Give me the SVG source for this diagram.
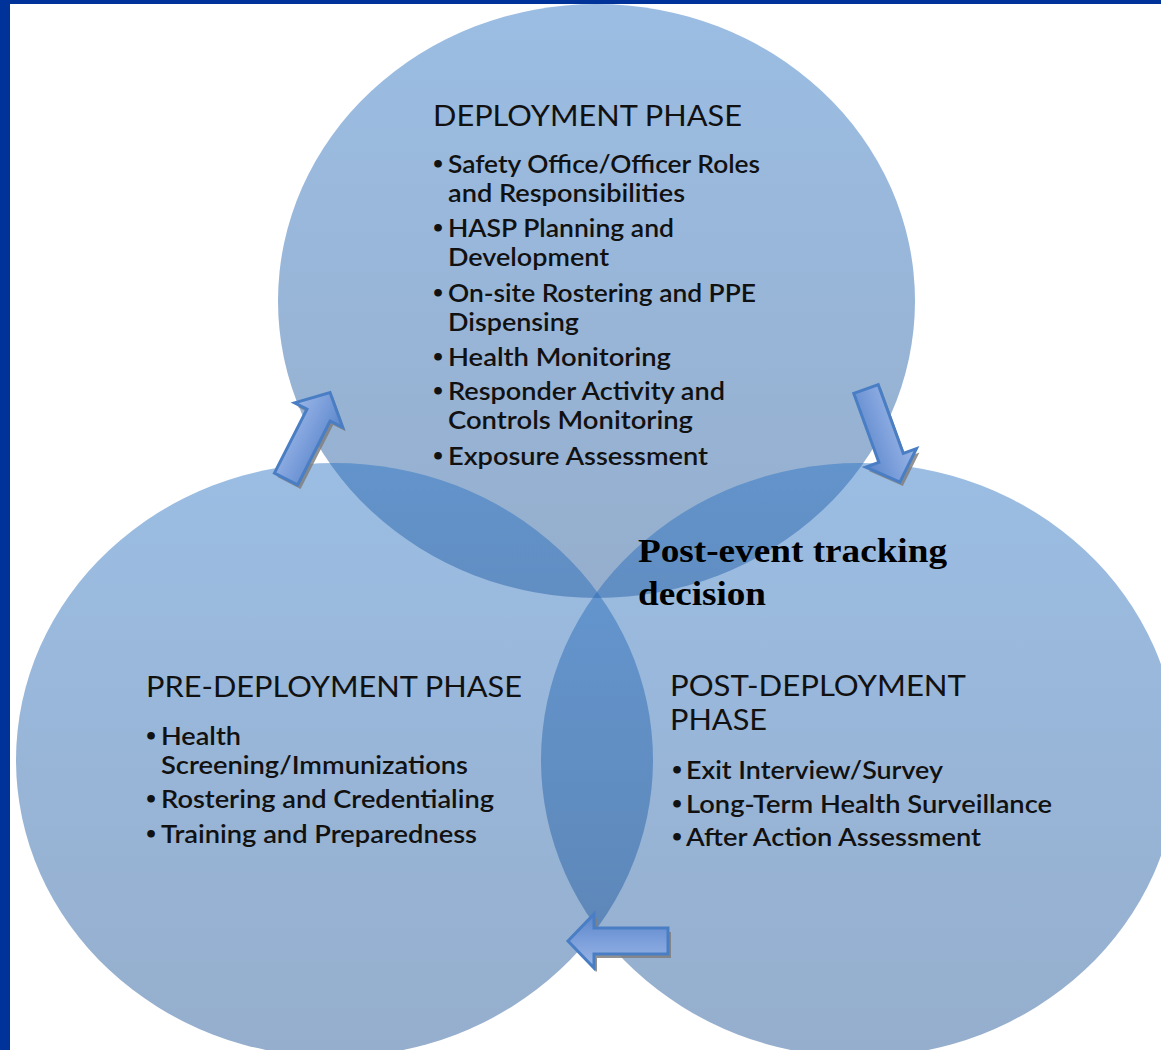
<svg xmlns="http://www.w3.org/2000/svg" xmlns:xlink="http://www.w3.org/1999/xlink" width="1161" height="1050" viewBox="0 0 1161 1050">
<style>
.head{font-family:Lato,"Open Sans","Liberation Sans",sans-serif;font-size:28px;fill:#111;}
.item{font-family:Lato,"Open Sans","Liberation Sans",sans-serif;font-size:24px;font-weight:600;fill:#111;}
.bul{font-family:"DejaVu Sans",sans-serif;font-size:22px;font-weight:bold;fill:#111;}
.note{font-family:"Liberation Serif","Times New Roman",serif;font-size:34px;font-weight:bold;fill:#000;}
.circ{fill:url(#cg);opacity:0.46;}
.arrow{fill:url(#ag);stroke:#4a7ec4;stroke-width:3;stroke-linejoin:miter;}
.shadow{fill:#7f7f7f;opacity:0.85;}
</style>
<defs>
<linearGradient id="cg" x1="0" y1="0" x2="0" y2="1">
<stop offset="0" stop-color="rgb(38,112,194)"/>
<stop offset="1" stop-color="rgb(25,79,146)"/>
</linearGradient>
<linearGradient id="ag" gradientUnits="userSpaceOnUse" x1="0" y1="-27" x2="0" y2="27">
<stop offset="0" stop-color="#9bb6e6"/>
<stop offset="0.5" stop-color="#7c9fdb"/>
<stop offset="1" stop-color="#5a85c9"/>
</linearGradient>
<path id="arr" d="M0,-13 H74 V-27 L100,0 L74,27 V13 H0 Z"/>
</defs>
<rect width="1161" height="1050" fill="#fff"/>

<g id="node-deployment">
<ellipse class="circ" cx="596.5" cy="301" rx="318.5" ry="297"/>
<text class="head" x="433" y="126" textLength="309" lengthAdjust="spacingAndGlyphs">DEPLOYMENT PHASE</text>
<text class="bul" x="431" y="172">•</text><text class="item" x="448" y="173" textLength="312" lengthAdjust="spacingAndGlyphs">Safety Office/Officer Roles</text>
<text class="item" x="448" y="202" textLength="237" lengthAdjust="spacingAndGlyphs">and Responsibilities</text>
<text class="bul" x="431" y="236">•</text><text class="item" x="448" y="237" textLength="226" lengthAdjust="spacingAndGlyphs">HASP Planning and</text>
<text class="item" x="448" y="266" textLength="161" lengthAdjust="spacingAndGlyphs">Development</text>
<text class="bul" x="431" y="301">•</text><text class="item" x="448" y="302" textLength="308" lengthAdjust="spacingAndGlyphs">On-site Rostering and PPE</text>
<text class="item" x="448" y="331" textLength="131" lengthAdjust="spacingAndGlyphs">Dispensing</text>
<text class="bul" x="431" y="365">•</text><text class="item" x="448" y="366" textLength="223" lengthAdjust="spacingAndGlyphs">Health Monitoring</text>
<text class="bul" x="431" y="399">•</text><text class="item" x="448" y="400" textLength="277" lengthAdjust="spacingAndGlyphs">Responder Activity and</text>
<text class="item" x="448" y="429" textLength="245" lengthAdjust="spacingAndGlyphs">Controls Monitoring</text>
<text class="bul" x="431" y="464">•</text><text class="item" x="448" y="465" textLength="260" lengthAdjust="spacingAndGlyphs">Exposure Assessment</text>
</g>

<g id="node-pre-deployment">
<ellipse class="circ" cx="334.5" cy="760" rx="318.5" ry="297"/>
<text class="head" x="146" y="697" textLength="376" lengthAdjust="spacingAndGlyphs">PRE-DEPLOYMENT PHASE</text>
<text class="bul" x="144" y="744">•</text><text class="item" x="161" y="745" textLength="80" lengthAdjust="spacingAndGlyphs">Health</text>
<text class="item" x="161" y="774" textLength="307" lengthAdjust="spacingAndGlyphs">Screening/Immunizations</text>
<text class="bul" x="144" y="807">•</text><text class="item" x="161" y="808" textLength="333" lengthAdjust="spacingAndGlyphs">Rostering and Credentialing</text>
<text class="bul" x="144" y="842">•</text><text class="item" x="161" y="843" textLength="316" lengthAdjust="spacingAndGlyphs">Training and Preparedness</text>
</g>

<g id="node-post-deployment">
<ellipse class="circ" cx="859.5" cy="760" rx="318.5" ry="297"/>
<text class="head" x="670" y="696" textLength="296" lengthAdjust="spacingAndGlyphs">POST-DEPLOYMENT</text>
<text class="head" x="670" y="730" textLength="97" lengthAdjust="spacingAndGlyphs">PHASE</text>
<text class="bul" x="670" y="778">•</text><text class="item" x="686" y="779" textLength="257" lengthAdjust="spacingAndGlyphs">Exit Interview/Survey</text>
<text class="bul" x="670" y="812">•</text><text class="item" x="686" y="813" textLength="366" lengthAdjust="spacingAndGlyphs">Long-Term Health Surveillance</text>
<text class="bul" x="670" y="845">•</text><text class="item" x="686" y="846" textLength="295" lengthAdjust="spacingAndGlyphs">After Action Assessment</text>
</g>

<g id="label-post-event">
<text class="note" x="638" y="562" textLength="309" lengthAdjust="spacingAndGlyphs">Post-event tracking</text>
<text class="note" x="638" y="605" textLength="128" lengthAdjust="spacingAndGlyphs">decision</text>
</g>

<g id="connectors">
<g id="arrow-pre-to-deployment">
<use xlink:href="#arr" class="shadow" transform="translate(289,483) rotate(-63) scale(0.97,1)"/>
<use xlink:href="#arr" class="arrow" transform="translate(286,479) rotate(-63) scale(0.97,1)"/>
</g>
<g id="arrow-deployment-to-post">
<use xlink:href="#arr" class="shadow" transform="translate(869,393) rotate(70) scale(0.99,1)"/>
<use xlink:href="#arr" class="arrow" transform="translate(866,389) rotate(70) scale(0.99,1)"/>
</g>
<g id="arrow-post-to-pre">
<use xlink:href="#arr" class="shadow" transform="translate(671,945) rotate(180)"/>
<use xlink:href="#arr" class="arrow" transform="translate(668,941) rotate(180)"/>
</g>
</g>

<rect x="0" y="0" width="10" height="1050" fill="#003399"/>
<rect x="0" y="0" width="1161" height="4" fill="#003399"/>
</svg>
